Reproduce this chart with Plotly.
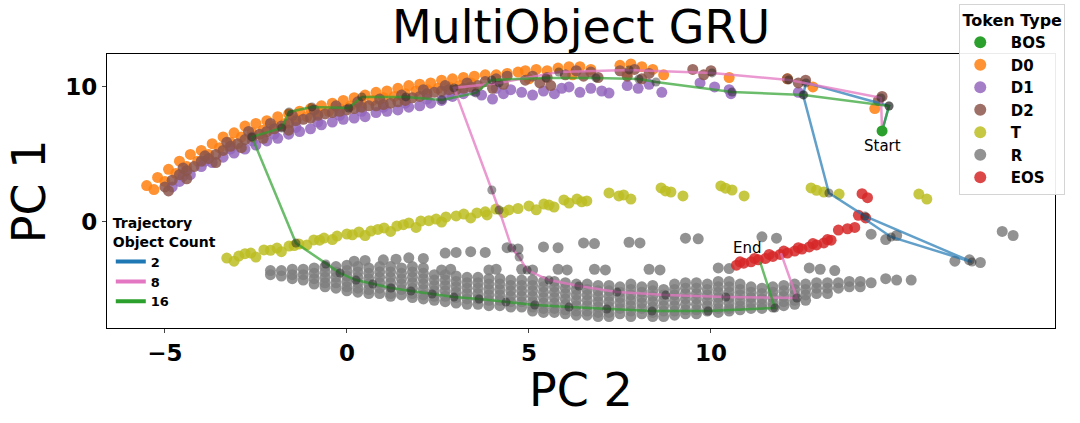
import plotly.graph_objects as go

# token clouds, PC 2 on x and PC 1 on y
bos_x = [14.70]
bos_y = [6.74]

d0_x = [-5.5, -5.2, -4.9, -4.6, -4.3, -4.0, -3.7, -3.4, -3.1, -2.8, -2.5, -2.2, -1.9, -1.6, -1.3, -1.0, -0.7, -0.4,
        -0.1, 0.2, 0.5, 0.8, 1.1, 1.4, 1.7, 2.0, 2.3, 2.6, 2.9, 3.2, 3.5, 3.8, 4.1, 4.4, 4.7,
        -5.3, -5.0, -4.7, -4.4, -4.1, -3.8, -3.5, -3.2, -2.9, -2.6, -2.3, -2.0, -1.7, -1.4, -1.1, -0.8, -0.5, -0.2,
        0.1, 0.4, 0.7, 1.0, 1.3, 1.6, 1.9, 2.2, 2.5, 2.8, 3.1, 3.4,
        4.9, 5.2, 5.5, 5.8, 6.1, 6.4, 6.7, 7.5, 7.8, 8.1, 8.4, 8.7, 5.0, 6.2, 7.7, 10.5, 12.1, 12.8, 14.5]
d0_y = [2.7, 3.3, 3.9, 4.5, 5.0, 5.3, 5.8, 6.3, 6.6, 7.1, 7.3, 7.5, 7.8, 8.0, 8.2, 8.4, 8.6, 8.8,
        9.0, 9.2, 9.4, 9.6, 9.7, 9.9, 10.1, 10.2, 10.3, 10.5, 10.6, 10.7, 10.8, 10.9, 10.9, 11.0, 11.1,
        2.4, 3.0, 3.6, 4.1, 4.5, 5.0, 5.5, 5.9, 6.3, 6.6, 6.8, 7.1, 7.3, 7.6, 7.8, 8.0, 8.2, 8.4,
        8.6, 8.8, 9.0, 9.2, 9.3, 9.5, 9.7, 9.8, 9.9, 10.0, 10.1, 10.3,
        11.2, 11.3, 11.2, 11.4, 11.5, 11.5, 11.3, 11.6, 11.7, 11.5, 11.3, 10.9, 10.6, 10.9, 11.0, 10.7, 10.6, 10.0, 8.4]

d1_x = [-4.8, -4.6, -4.3, -4.0, -3.7, -3.4, -3.1, -2.8, -2.5, -2.2, -1.9, -1.6, -1.3, -1.0, -0.7, -0.4, -0.1,
        0.2, 0.5, 0.8, 1.1, 1.4, 1.7, 2.0, 2.3, 2.6, 2.9, 3.2, 3.5,
        -4.5, -3.9, -3.2, -2.6, -2.0, -1.4, -0.8, -0.2, 0.4, 1.0, 1.6, 2.2, 2.8,
        3.7, 4.0, 4.3, 4.5, 4.1, 4.8, 5.1, 5.4, 5.7, 5.9, 6.1, 6.4, 6.7, 7.0, 7.2, 7.7, 8.0, 8.3, 8.65,
        9.7, 10.1, 10.5, 10.55, 12.4]
d1_y = [2.6, 3.0, 3.5, 4.1, 4.4, 4.8, 5.1, 5.4, 5.7, 6.0, 6.2, 6.5, 6.7, 6.9, 7.2, 7.4, 7.6,
        7.7, 7.8, 8.1, 8.2, 8.3, 8.5, 8.6, 8.8, 9.0, 9.3, 9.5, 9.7,
        3.4, 4.5, 5.4, 6.0, 6.5, 7.0, 7.4, 7.9, 8.2, 8.5, 8.8, 9.1, 9.4,
        9.4, 9.1, 9.5, 9.8, 9.9, 9.6, 9.4, 9.7, 9.5, 9.9, 10.0, 9.6, 9.9, 9.7, 9.55, 10.1, 9.9, 10.2, 9.6,
        10.3, 10.0, 9.8, 9.5, 9.6]

d2_x = [-5.0, -4.8, -4.6, -4.4, -4.2, -4.0, -3.8, -3.6, -3.4, -3.2, -3.0, -2.8, -2.6, -2.4, -2.2, -2.0, -1.8,
        -1.6, -1.4, -1.2, -1.0, -0.8, -0.6, -0.4, -0.2, 0.0, 0.2, 0.4, 0.6, 0.8, 1.0, 1.2, 1.4, 1.6, 1.8,
        2.0, 2.2, 2.4, 2.6, 2.8, 3.0, 3.2, 3.4, 3.6,
        -4.5, -3.9, -3.3, -2.7, -2.1, -1.5, -0.9, -0.3, 0.3, 0.9, 1.5, 2.1, 2.7, 3.3,
        -4.9, -4.4, -3.6, -2.9, -2.3, -1.6,
        3.8, 4.1, 4.3, 4.0, 4.4, 4.9, 5.1, 5.3, 5.5, 5.6, 6.0, 6.3, 6.5, 6.7, 6.9,
        7.5, 7.7, 7.9, 8.1, 8.3, 9.5, 9.8, 10.0, 12.1, 12.4, 12.6, 14.6, 14.7]
d2_y = [2.6, 3.1, 3.5, 3.8, 4.1, 4.5, 4.7, 5.0, 5.3, 5.6, 5.8, 6.1, 6.3, 6.5, 6.7, 6.9, 7.1,
        7.3, 7.5, 7.6, 7.7, 7.9, 8.0, 8.1, 8.2, 8.3, 8.4, 8.5, 8.6, 8.6, 8.7, 8.8, 8.9, 9.0, 9.2,
        9.3, 9.5, 9.6, 9.7, 9.8, 9.8, 9.9, 10.0, 10.1,
        4.0, 4.9, 5.9, 6.7, 7.3, 7.9, 8.3, 8.6, 8.9, 9.1, 9.4, 9.8, 10.1, 10.3,
        2.3, 3.2, 4.4, 5.5, 6.2, 6.8,
        10.4, 10.6, 10.2, 9.9, 10.8, 10.5, 10.8, 10.3, 10.7, 10.1, 10.9, 11.2, 10.8, 11.1, 10.7,
        11.2, 10.8, 11.3, 10.6, 11.0, 11.3, 10.9, 11.2, 10.6, 10.3, 10.5, 9.0, 9.3]

t_x = [-3.30, -2.97, -2.64, -2.28, -1.92, -1.59, -1.32, -0.91, -0.63, -0.27, 0.0, 0.33, 0.66, 1.02, 1.37, 1.70,
       2.03, 2.45, 2.72, 3.21, 3.57, 3.85, 4.09, 4.45, 5.0, 5.41, 5.69, 5.96, 6.32, 6.59, 7.20, 7.47, 7.80,
       8.63, 8.90, 9.23, 10.27, 10.58, 10.91, 12.75, 13.10, 13.52, 15.71, 15.93,
       -3.1, -2.5, -1.8, -1.1, -0.4, 0.5, 1.2, 1.9, 2.6, 3.4, 4.3, 5.2, 6.1,
       -2.8, -2.1, -1.45, -0.75, 0.15, 0.85, 1.55, 2.25, 3.0, 3.8, 4.7, 5.55, 6.45, 7.6, 8.75, 10.4, 12.9]
t_y = [-2.67, -2.52, -2.30, -2.07, -1.93, -1.78, -1.63, -1.33, -1.19, -1.04, -0.89, -0.74, -0.67, -0.44, -0.30, -0.07,
       0.07, 0.22, 0.37, 0.59, 0.67, 0.52, 0.96, 0.89, 1.19, 1.33, 1.11, 1.63, 1.70, 1.56, 2.15, 1.93, 1.70,
       2.52, 2.22, 1.93, 2.67, 2.37, 1.93, 2.52, 2.22, 2.07, 2.07, 1.70,
       -2.9, -2.6, -2.2, -1.7, -1.3, -1.0, -0.7, -0.4, 0.0, 0.3, 0.7, 0.9, 1.4,
       -2.35, -2.1, -1.75, -1.35, -0.95, -0.55, -0.2, 0.1, 0.45, 0.75, 1.0, 1.25, 1.5, 2.0, 2.3, 2.5, 2.35]

r_x = [0.2, 0.5, 1.0, 1.35, 1.7, 2.1, 2.7, 3.0, 3.4, 3.8, 4.4, 4.7, 5.4, 5.8, 6.5, 6.8, 7.75, 8.05, 9.3, 9.65,
       11.4, 11.8, 14.4, 14.8, 15.1, 18.0, 18.3, 16.7, 17.1, 17.4,
       2.6, 2.85, 3.9, 4.1, 4.8, 5.1, 5.8, 6.05, 6.8, 7.1, 8.3, 8.6, 10.2, 10.5, 12.7, 13.0, 13.4, 14.8, 15.1, 15.5,
       -2.1, -2.1,
       -1.8, -1.8,
       -1.5, -1.5, -1.5,
       -1.2, -1.2, -1.2,
       -0.9, -0.9, -0.9, -0.9,
       -0.6, -0.6, -0.6, -0.6, -0.6,
       -0.3, -0.3, -0.3, -0.3, -0.3,
       0.0, 0.0, 0.0, 0.0, 0.0, 0.0,
       0.3, 0.3, 0.3, 0.3, 0.3, 0.3,
       0.6, 0.6, 0.6, 0.6, 0.6, 0.6,
       0.9, 0.9, 0.9, 0.9, 0.9, 0.9,
       1.2, 1.2, 1.2, 1.2, 1.2, 1.2, 1.2,
       1.5, 1.5, 1.5, 1.5, 1.5, 1.5,
       1.8, 1.8, 1.8, 1.8, 1.8, 1.8, 1.8,
       2.1, 2.1, 2.1, 2.1, 2.1, 2.1, 2.1,
       2.4, 2.4, 2.4, 2.4, 2.4, 2.4,
       2.7, 2.7, 2.7, 2.7, 2.7, 2.7,
       3.0, 3.0, 3.0, 3.0, 3.0, 3.0,
       3.3, 3.3, 3.3, 3.3, 3.3, 3.3,
       3.6, 3.6, 3.6, 3.6, 3.6, 3.6,
       3.9, 3.9, 3.9, 3.9, 3.9, 3.9,
       4.2, 4.2, 4.2, 4.2, 4.2, 4.2,
       4.5, 4.5, 4.5, 4.5, 4.5, 4.5,
       4.8, 4.8, 4.8, 4.8, 4.8, 4.8,
       5.1, 5.1, 5.1, 5.1, 5.1, 5.1, 5.1,
       5.4, 5.4, 5.4, 5.4, 5.4, 5.4, 5.4,
       5.7, 5.7, 5.7, 5.7, 5.7, 5.7, 5.7,
       6.0, 6.0, 6.0, 6.0, 6.0, 6.0, 6.0,
       6.3, 6.3, 6.3, 6.3, 6.3, 6.3, 6.3,
       6.6, 6.6, 6.6, 6.6, 6.6, 6.6, 6.6,
       6.9, 6.9, 6.9, 6.9, 6.9, 6.9, 6.9,
       7.2, 7.2, 7.2, 7.2, 7.2, 7.2, 7.2,
       7.5, 7.5, 7.5, 7.5, 7.5, 7.5,
       7.8, 7.8, 7.8, 7.8, 7.8, 7.8, 7.8,
       8.1, 8.1, 8.1, 8.1, 8.1, 8.1,
       8.4, 8.4, 8.4, 8.4, 8.4, 8.4, 8.4,
       8.7, 8.7, 8.7, 8.7, 8.7, 8.7,
       9.0, 9.0, 9.0, 9.0, 9.0, 9.0, 9.0,
       9.3, 9.3, 9.3, 9.3, 9.3, 9.3, 9.3,
       9.6, 9.6, 9.6, 9.6, 9.6, 9.6, 9.6,
       9.9, 9.9, 9.9, 9.9, 9.9, 9.9,
       10.2, 10.2, 10.2, 10.2, 10.2, 10.2, 10.2,
       10.5, 10.5, 10.5, 10.5, 10.5, 10.5, 10.5,
       10.8, 10.8, 10.8, 10.8, 10.8, 10.8,
       11.1, 11.1, 11.1, 11.1, 11.1,
       11.4, 11.4, 11.4, 11.4, 11.4,
       11.7, 11.7, 11.7, 11.7, 11.7,
       12.0, 12.0, 12.0, 12.0, 12.0,
       12.3, 12.3, 12.3, 12.3, 12.3,
       12.6, 12.6, 12.6, 12.6,
       12.9, 12.9, 12.9,
       13.2, 13.2, 13.2,
       13.5, 13.5,
       13.8, 13.8,
       14.1, 14.1,
       14.4]
r_y = [-2.9, -2.85, -2.8, -2.75, -2.65, -2.7, -2.3, -2.25, -2.2, -2.25, -1.9, -2.0, -1.85, -1.9, -1.55, -1.6, -1.5, -1.55, -1.2, -1.25,
       -1.1, -1.2, -0.9, -1.3, -1.0, -0.7, -1.0, -2.9, -2.8, -3.0,
       -3.55, -3.5, -3.55, -3.5, -3.5, -3.55, -3.5, -3.55, -3.5, -3.55, -3.5, -3.55, -3.4, -3.45, -3.4, -3.5, -3.6, -4.2, -4.3, -4.3,
       -3.6, -3.9,
       -3.6, -4.0,
       -3.5, -3.9, -4.2,
       -3.5, -3.9, -4.3,
       -3.4, -3.8, -4.2, -4.6,
       -3.3, -3.7, -4.1, -4.5, -4.8,
       -3.3, -3.7, -4.1, -4.5, -4.9,
       -3.2, -3.6, -4.0, -4.4, -4.8, -5.1,
       -3.3, -3.7, -4.1, -4.5, -4.9, -5.2,
       -3.4, -3.8, -4.2, -4.6, -5.0, -5.3,
       -3.3, -3.7, -4.1, -4.5, -4.9, -5.3,
       -3.3, -3.7, -4.1, -4.5, -4.9, -5.3, -5.5,
       -3.4, -3.8, -4.2, -4.6, -5.0, -5.4,
       -3.3, -3.7, -4.1, -4.5, -4.9, -5.3, -5.6,
       -3.4, -3.8, -4.2, -4.6, -5.0, -5.4, -5.7,
       -3.9, -4.3, -4.7, -5.1, -5.5, -5.8,
       -3.9, -4.3, -4.7, -5.1, -5.5, -5.9,
       -4.0, -4.4, -4.8, -5.2, -5.6, -6.0,
       -4.1, -4.5, -4.9, -5.3, -5.7, -6.1,
       -4.1, -4.5, -4.9, -5.3, -5.7, -6.1,
       -4.2, -4.6, -5.0, -5.4, -5.8, -6.2,
       -4.2, -4.6, -5.0, -5.4, -5.8, -6.2,
       -4.3, -4.7, -5.1, -5.5, -5.9, -6.3,
       -4.3, -4.7, -5.1, -5.5, -5.9, -6.3,
       -4.3, -4.7, -5.1, -5.5, -5.9, -6.3, -6.6,
       -4.4, -4.8, -5.2, -5.6, -6.0, -6.4, -6.7,
       -4.4, -4.8, -5.2, -5.6, -6.0, -6.4, -6.7,
       -4.5, -4.9, -5.3, -5.7, -6.1, -6.5, -6.8,
       -4.6, -5.0, -5.4, -5.8, -6.2, -6.6, -6.9,
       -4.6, -5.0, -5.4, -5.8, -6.2, -6.6, -6.9,
       -4.7, -5.1, -5.5, -5.9, -6.3, -6.7, -7.0,
       -4.7, -5.1, -5.5, -5.9, -6.3, -6.7, -7.0,
       -4.8, -5.2, -5.6, -6.0, -6.4, -6.8,
       -4.6, -5.0, -5.4, -5.8, -6.2, -6.6, -7.0,
       -4.8, -5.2, -5.6, -6.0, -6.4, -6.8,
       -4.7, -5.1, -5.5, -5.9, -6.3, -6.7, -7.0,
       -5.0, -5.4, -5.8, -6.2, -6.6, -7.0,
       -4.6, -5.0, -5.4, -5.8, -6.2, -6.6, -6.9,
       -4.5, -4.9, -5.3, -5.7, -6.1, -6.5, -6.8,
       -4.5, -4.9, -5.3, -5.7, -6.1, -6.5, -6.8,
       -4.6, -5.0, -5.4, -5.8, -6.2, -6.6,
       -4.4, -4.8, -5.2, -5.6, -6.0, -6.4, -6.7,
       -4.4, -4.8, -5.2, -5.6, -6.0, -6.4, -6.6,
       -4.6, -5.0, -5.4, -5.8, -6.2, -6.5,
       -4.8, -5.2, -5.6, -6.0, -6.4,
       -4.9, -5.3, -5.7, -6.1, -6.4,
       -4.8, -5.2, -5.6, -6.0, -6.3,
       -4.7, -5.1, -5.5, -5.9, -6.2,
       -4.6, -5.0, -5.4, -5.8, -6.1,
       -4.6, -5.0, -5.4, -5.8,
       -4.5, -4.9, -5.3,
       -4.5, -4.9, -5.3,
       -4.5, -4.9,
       -4.4, -4.8,
       -4.4, -4.8,
       -4.5]

eos_x = [10.7, 10.9, 11.1, 11.3, 11.5, 11.7, 11.9, 12.1, 12.3, 12.5, 12.7, 12.9, 13.1, 13.3,
         10.8, 11.2, 11.6, 12.0, 12.4, 12.8, 13.2, 13.5, 13.75, 13.95, 14.05, 14.25, 14.15, 14.3]
eos_y = [-3.2, -3.05, -2.95, -2.8, -2.7, -2.55, -2.4, -2.3, -2.15, -2.0, -1.85, -1.7, -1.55, -1.35,
         -2.95, -2.7, -2.4, -2.15, -1.9, -1.6, -1.3, -0.6, -0.5, -0.4, 0.5, 0.3, 2.1, 1.8]

# trajectories for 2, 8 and 16 objects
traj2_x = [14.70, 14.89, 12.61, 12.53, 13.24, 14.23, 17.17, 14.95, 14.18]
traj2_y = [6.74, 8.59, 10.30, 9.41, 2.15, 0.44, -2.96, -1.11, 0.30]
traj8_x = [14.70, 14.67, 12.14, 10.03, 7.75, 5.82, 4.18, 2.94, 3.98, 4.18,
           4.53, 4.73, 4.95, 5.55, 6.37, 7.42, 8.76, 10.41, 12.36, 11.92]
traj8_y = [6.74, 9.19, 10.52, 11.04, 11.26, 11.11, 10.30, 9.93, 2.37, 0.89,
           -1.93, -2.59, -3.56, -4.30, -4.74, -5.19, -5.41, -5.56, -5.63, -2.30]
traj16_x = [14.70, 14.89, 12.55, 10.58, 8.49, 8.02, 6.84, 5.47, 3.98, 3.54,
            2.61, 1.62, 0.41, 0.05, -0.96, -1.59, -1.79, -2.61, -1.40, -0.58,
            -0.19, 0.25, 0.71, 1.21, 1.76, 2.34, 2.94, 3.63, 4.37, 5.16,
            6.10, 7.14, 8.38, 9.92, 11.76, 11.35]
traj16_y = [6.74, 8.59, 9.41, 9.63, 10.37, 10.59, 10.67, 10.67, 10.52, 9.56,
            9.04, 9.26, 9.26, 8.44, 8.52, 8.15, 6.96, 6.30, -1.56, -3.11,
            -3.78, -4.30, -4.59, -4.89, -5.11, -5.33, -5.56, -5.70, -5.93, -6.15,
            -6.30, -6.44, -6.59, -6.59, -6.37, -2.96]

FONT = 'DejaVu Sans'
SP = '\u2002\u2009'

fig = go.Figure()

# token clouds
tokens = [
    ('D0', d0_x, d0_y, '#ff7f0e', 2),
    ('D1', d1_x, d1_y, '#9467bd', 3),
    ('D2', d2_x, d2_y, '#8c564b', 4),
    ('T', t_x, t_y, '#bcbd22', 5),
    ('R', r_x, r_y, '#7f7f7f', 6),
    ('EOS', eos_x, eos_y, '#d62728', 7),
]
for name, xs, ys, color, rank in tokens:
    fig.add_trace(go.Scatter(
        x=xs, y=ys, mode='markers', name=SP + '<b>' + name + '</b>',
        marker=dict(size=11, color=color, opacity=0.85, line=dict(width=0)),
        legend='legend', legendrank=rank,
    ))

# trajectories: faded line, dark dots on each step, solid line in the second legend
trajs = [
    ('2', traj2_x, traj2_y, 'rgba(31,119,180,0.7)', '#1f77b4'),
    ('8', traj8_x, traj8_y, 'rgba(227,119,194,0.75)', '#e377c2'),
    ('16', traj16_x, traj16_y, 'rgba(44,160,44,0.7)', '#2ca02c'),
]
for name, xs, ys, lcolor, solid in trajs:
    fig.add_trace(go.Scatter(
        x=xs, y=ys, mode='lines', showlegend=False,
        line=dict(color=lcolor, width=2.5),
    ))
    dots = ['rgba(0,0,0,0)'] + ['rgba(30,30,30,0.45)'] * (len(xs) - 2) + ['rgba(0,0,0,0)']
    fig.add_trace(go.Scatter(
        x=xs, y=ys, mode='markers', showlegend=False,
        marker=dict(size=9, color=dots, line=dict(width=0)),
    ))
    fig.add_trace(go.Scatter(
        x=[None], y=[None], mode='lines', name='<b>' + name + '</b>',
        line=dict(color=solid, width=4), legend='legend2',
    ))

fig.add_trace(go.Scatter(
    x=bos_x, y=bos_y, mode='markers', name=SP + '<b>BOS</b>',
    marker=dict(size=11, color='#2ca02c', line=dict(width=0)),
    legend='legend', legendrank=1,
))

fig.add_annotation(x=bos_x[0], y=5.65, text='Start', showarrow=False,
                   font=dict(family=FONT, size=15, color='black'))
fig.add_annotation(x=11.0, y=-1.9, text='End', showarrow=False,
                   font=dict(family=FONT, size=15, color='black'))

# axis titles
fig.add_annotation(x=0.5, y=-0.226, xref='paper', yref='paper', text='PC 2', showarrow=False,
                   font=dict(family=FONT, size=46, color='black'), yanchor='middle')
fig.add_annotation(x=-0.082, y=0.5, xref='paper', yref='paper', text='PC 1', showarrow=False,
                   textangle=-90, font=dict(family=FONT, size=46, color='black'), xanchor='center')

axis_style = dict(showgrid=False, zeroline=False, showline=True, mirror=True,
                  linecolor='black', linewidth=1.2, ticks='outside', ticklen=4,
                  tickcolor='#444', tickfont=dict(family=FONT, size=23, color='black', weight='bold'))

fig.update_layout(
    width=1080, height=423,
    margin=dict(l=107, r=25, t=54, b=95, autoexpand=False),
    plot_bgcolor='white', paper_bgcolor='white',
    title=dict(text='MultiObject GRU', x=0.5, xref='paper', xanchor='center',
               y=0.936, yref='container', yanchor='middle',
               font=dict(family=FONT, size=46, color='black')),
    xaxis=dict(range=[-6.59, 19.45], tickvals=[-5, 0, 5, 10], ticktext=['\u22125', '0', '5', '10'], **axis_style),
    yaxis=dict(range=[-7.85, 12.44], tickvals=[0, 10], **axis_style),
    legend=dict(
        title=dict(text='<b>Token Type</b>', font=dict(family=FONT, size=16, color='black'), side='top center'),
        font=dict(family=FONT, size=15, color='black'),
        x=0.899, y=0.99, xref='paper', yref='container', xanchor='left', yanchor='top',
        bgcolor='rgba(255,255,255,0.92)', bordercolor='#d4d4d4', borderwidth=1,
        itemsizing='constant', tracegroupgap=0,
    ),
    legend2=dict(
        title=dict(text='<b>Trajectory<br>Object Count</b>', font=dict(family=FONT, size=14, color='black')),
        font=dict(family=FONT, size=13, color='black'),
        x=0.004, y=0.43, xanchor='left', yanchor='top',
        bgcolor='rgba(255,255,255,0.85)', borderwidth=0,
    ),
    showlegend=True,
)

# the page body has a default 8px margin; drop it so the figure sits at the window origin
fig.write_html("out.html", config={'displayModeBar': False},
               post_script="document.body.style.margin='0';")
